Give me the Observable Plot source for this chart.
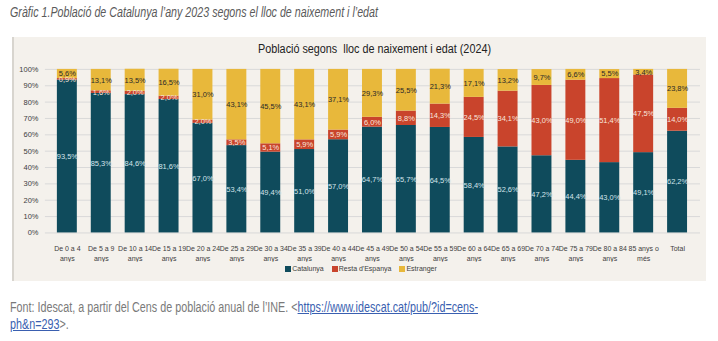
<!DOCTYPE html>
<html>
<head>
<meta charset="utf-8">
<script src="https://cdn.jsdelivr.net/npm/d3@7"></script>
<script src="https://cdn.jsdelivr.net/npm/@observablehq/plot@0.6"></script>
<style>
  html, body { margin: 0; padding: 0; background: #ffffff; }
  body { width: 718px; height: 341px; position: relative; overflow: hidden; }
  .fit { font-family: "Liberation Sans", Arial, sans-serif; transform-origin: 0 0; white-space: nowrap; }
  #title { position: absolute; left: 10px; top: 4px; font-size: 14px; font-style: italic; color: #5a5a5a; }
  #box { position: absolute; left: 12px; top: 37px; width: 694px; height: 244px; background: #f4f1ec; border-left: 2px solid #d8d5cf; box-sizing: border-box; }
  #ctitle { position: absolute; left: 244px; top: 5px; font-size: 12px; color: #222; }
  #chart { position: absolute; left: -2px; top: 0; }
  #legend { position: absolute; left: 0; width: 694px; top: 228px; text-align: center; font-size: 7px; color: #404040; font-family: "Liberation Sans", Arial, sans-serif; }
  #legend span.item { margin: 0 4px; }
  #legend span.sw { display: inline-block; width: 6px; height: 6px; margin-right: 1px; vertical-align: -0.5px; }
  #caption { position: absolute; left: 10px; top: 299px; font-size: 14px; line-height: 17px; color: #7a7a7a; }
  #caption a { color: #3a5fb0; text-decoration: underline; }
</style>
</head>
<body>
<div id="title" class="fit">Gràfic 1.Població de Catalunya l’any 2023 segons el lloc de naixement i l’edat</div>
<div id="box">
  <div id="chart"></div>
  <div id="ctitle" class="fit">Població segons&nbsp;&nbsp;lloc de naixement i edat (2024)</div>
  <div id="legend"></div>
</div>
<div id="caption" class="fit"><span id="capline">Font: Idescat, a partir del Cens de població anual de l’INE. &lt;<a>https://www.idescat.cat/pub/?id=cens-</a></span><br><a>ph&amp;n=293</a>&gt;.</div>
<script>
const categories = ["De 0 a 4 anys","De 5 a 9 anys","De 10 a 14 anys","De 15 a 19 anys","De 20 a 24 anys","De 25 a 29 anys","De 30 a 34 anys","De 35 a 39 anys","De 40 a 44 anys","De 45 a 49 anys","De 50 a 54 anys","De 55 a 59 anys","De 60 a 64 anys","De 65 a 69 anys","De 70 a 74 anys","De 75 a 79 anys","De 80 a 84 anys","85 anys o més","Total"];
const tickLabels = ["De 0 a 4\nanys","De 5 a 9\nanys","De 10 a 14\nanys","De 15 a 19\nanys","De 20 a 24\nanys","De 25 a 29\nanys","De 30 a 34\nanys","De 35 a 39\nanys","De 40 a 44\nanys","De 45 a 49\nanys","De 50 a 54\nanys","De 55 a 59\nanys","De 60 a 64\nanys","De 65 a 69\nanys","De 70 a 74\nanys","De 75 a 79\nanys","De 80 a 84\nanys","85 anys o\nmés","Total"];
const catalunya    = [93.5,85.3,84.6,81.6,67.0,53.4,49.4,51.0,57.0,64.7,65.7,64.5,58.4,52.6,47.2,44.4,43.0,49.1,62.2];
const restaEspanya = [0.9,1.6,2.0,2.0,2.0,3.5,5.1,5.9,5.9,6.0,8.8,14.3,24.5,34.1,43.0,49.0,51.4,47.5,14.0];
const estranger    = [5.6,13.1,13.5,16.5,31.0,43.1,45.5,43.1,37.1,29.3,25.5,21.3,17.1,13.2,9.7,6.6,5.5,3.4,23.8];
const series = ["Catalunya","Resta d'Espanya","Estranger"];
const seriesValues = [catalunya, restaEspanya, estranger];
const colors = ["#0f4b5c","#c9442c","#e8b83b"];
const labelColors = ["#d3e4ea","#f8e6df","#2a2a2a"];
const yTicks = [0,10,20,30,40,50,60,70,80,90,100];

const rows = categories.flatMap((c, i) => series.map((s, j) => ({cat: c, s, j, v: seriesValues[j][i]})));
const fmt = v => v.toFixed(1).replace(".", ",") + "%";
const chartFont = '"Liberation Sans", Arial, sans-serif';

const plot = Plot.plot({
  width: 696, height: 226,
  marginTop: 32, marginBottom: 30, marginLeft: 33, marginRight: 6,
  style: {background: "transparent", fontFamily: chartFont, fontSize: "7.5px", color: "#404040"},
  x: {domain: categories, paddingInner: 0.4, paddingOuter: 0.2, label: null},
  y: {domain: [0, 100], label: null},
  color: {type: "identity"},
  marks: [
    Plot.gridY(yTicks, {stroke: "#d9d9d9", strokeOpacity: 1}),
    Plot.barY(rows, Plot.stackY({x: "cat", y: "v", z: "s", order: series, fill: d => colors[d.j]})),
    Plot.text(rows, Plot.stackY({x: "cat", y: "v", z: "s", order: series, text: d => fmt(d.v), fill: d => labelColors[d.j], fontSize: 7.5})),
    Plot.axisY(yTicks, {tickSize: 0, tickPadding: 7, tickFormat: d => d + "%", fill: "#404040", fontSize: 7.5}),
    Plot.axisX({tickSize: 0, tickPadding: 10, tickFormat: d => tickLabels[categories.indexOf(d)], lineHeight: 1.55, fill: "#404040", fontSize: 7})
  ]
});
document.getElementById("chart").appendChild(plot);

const legend = document.getElementById("legend");
series.forEach((s, j) => {
  const item = document.createElement("span");
  item.className = "item";
  const sw = document.createElement("span");
  sw.className = "sw";
  sw.style.background = colors[j];
  item.appendChild(sw);
  item.appendChild(document.createTextNode(s));
  legend.appendChild(item);
});

// fit narrow-font texts to the widths they take in the original
function fitWidth(el, measureEl, target) {
  const w = measureEl.getBoundingClientRect().width;
  if (w > 0) el.style.transform = `scaleX(${target / w})`;
}
fitWidth(document.getElementById("title"), document.getElementById("title"), 368);
fitWidth(document.getElementById("ctitle"), document.getElementById("ctitle"), 233);
fitWidth(document.getElementById("caption"), document.getElementById("capline"), 468);
</script>
</body>
</html>
